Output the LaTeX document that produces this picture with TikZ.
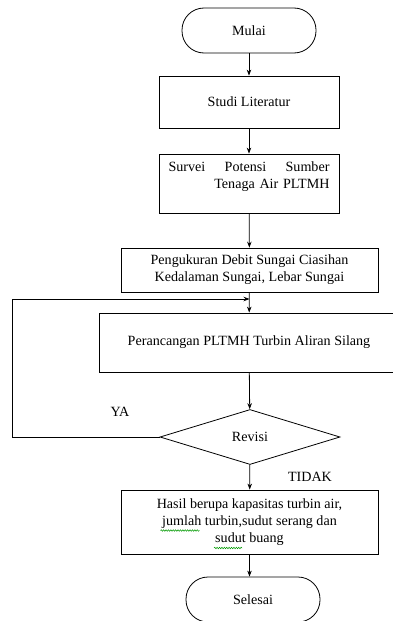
\documentclass[tikz,border=0pt]{standalone}
\usepackage{fontspec}
\setmainfont{Liberation Serif}
\usepackage{tikz}
\usetikzlibrary{arrows.meta,shapes.geometric,decorations.pathmorphing}

\tikzset{
  startstop/.style={draw, rounded corners=22pt, minimum width=134pt, minimum height=45pt},
  procbox/.style={draw, minimum width=180pt, align=center},
  widebox/.style={draw, minimum width=257pt, align=center},
  decide/.style={draw, diamond, aspect=3.27, minimum width=180pt, minimum height=55pt, inner sep=0pt},
  spellwave/.style={draw=green!60!black, line width=0.5pt, decorate,
    decoration={snake, amplitude=0.8pt, segment length=2.4pt}},
}

\begin{document}
\begin{tikzpicture}[x=1pt, y=-1pt, line width=0.8pt, font=\fontsize{14.1}{17}\selectfont,
    >={Stealth[length=6pt,width=4.5pt]}]
            \useasboundingbox (0,0) rectangle (393,621);

            % main column
            \node[startstop] (mulai) at (249,30.5) {Mulai};
            \node[procbox, minimum height=52pt] (studi) at (249,102) {Studi Literatur};
            \node[procbox, minimum height=59pt, text width=161pt, align=right] (survei) at (249,183.5)
                {Survei\hfill Potensi\hfill Sumber\\Tenaga Air PLTMH\hspace*{5pt}\\ \mbox{}};
            \node[widebox, minimum height=44pt] (ukur) at (249.5,270)
                {Pengukuran Debit Sungai Ciasihan\\Kedalaman Sungai, Lebar Sungai};
            \node[draw, minimum width=300pt, minimum height=59pt] (rancang) at (249,342.5)
                {Perancangan PLTMH Turbin Aliran Silang};
            \node[decide] (revisi) at (250,437) {Revisi};
            \node[widebox, minimum height=64pt] (hasil) at (249.5,522)
                {Hasil berupa kapasitas turbin air,\\jumlah turbin,sudut serang dan\\sudut buang};
            \node[startstop] (selesai) at (253,599.5) {Selesai};

            % spell check marks
            \path[spellwave] ([xshift=-89pt,yshift=-8.5pt]hasil.center) -- ++(39,0);
            \path[spellwave] ([xshift=-35.5pt,yshift=-26pt]hasil.center) -- ++(28,0);

            % labels
            \node (ya) at (120,412) {YA};
            \node (tidak) at (310,477) {TIDAK};

            % connectors
            \draw[->] (mulai) -- (studi);
            \draw[->] (studi) -- (survei);
            \draw[->] (survei) -- (ukur);
            \draw[->] (ukur) -- (rancang);
            \draw[->] (rancang) -- (revisi);
            \draw[->] (revisi) -- (hasil);
            \draw[->] (hasil) -- (selesai.north -| hasil);

            % loop back on YA
            \coordinate (kiri) at (12,299);
            \coordinate (masuk) at (249.5,299);
            \draw[->] (revisi.west) -| (kiri) -- (masuk);
        \end{tikzpicture}
\end{document}
